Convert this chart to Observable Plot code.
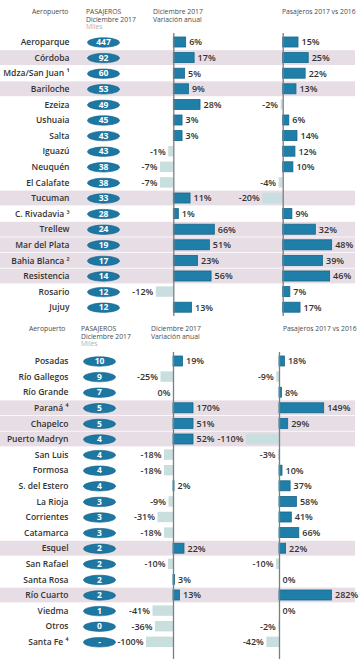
<!DOCTYPE html>
<html><head><meta charset="utf-8">
<script src="https://cdn.jsdelivr.net/npm/d3@7"></script>
<script src="https://cdn.jsdelivr.net/npm/@observablehq/plot@0.6"></script>
<style>
body{margin:0;background:#fff;font-family:"Open Sans",sans-serif;}
#chart{position:relative;width:360px;height:659px;overflow:hidden;background:#fff;}
.hdr{position:absolute;font-size:6.8px;line-height:7.6px;color:#4a4a4a;white-space:nowrap;}
.hdr .miles{color:#b3b3b3;}
</style></head><body><div id="chart"></div>
<script>
// ---- Data ----
const topNames = ["Aeroparque","Córdoba","Mdza/San Juan ¹","Bariloche","Ezeiza","Ushuaia","Salta","Iguazú","Neuquén","El Calafate","Tucuman","C. Rivadavia ³","Trellew","Mar del Plata","Bahia Blanca ²","Resistencia","Rosario","Jujuy"];
const topPax = ["447","92","60","53","49","45","43","43","38","38","33","28","24","19","17","14","12","12"];
const topVarDic = [6,17,5,9,28,3,3,-1,-7,-7,11,1,66,51,23,56,-12,13];
const topVarYear = [15,25,22,13,-2,6,14,12,10,-4,-20,9,32,48,39,46,7,17];
const topHighlight = ["Córdoba","Bariloche","Tucuman","Trellew","Mar del Plata","Bahia Blanca ²","Resistencia"];

const botNames = ["Posadas","Río Gallegos","Río Grande","Paraná ⁴","Chapelco","Puerto Madryn","San Luis","Formosa","S. del Estero","La Rioja","Corrientes","Catamarca","Esquel","San Rafael","Santa Rosa","Río Cuarto","Viedma","Otros","Santa Fe ⁴"];
const botPax = ["10","9","7","5","5","4","4","4","4","3","3","3","2","2","2","2","1","0","-"];
const botVarDic = [19,-25,0,170,51,52,-18,-18,2,-9,-31,-18,22,-10,3,13,-41,-36,-100];
const botVarYear = [18,-9,8,149,29,-110,-3,10,37,58,41,66,22,-10,0,282,0,-2,-42];
const botHighlight = ["Paraná ⁴","Chapelco","Puerto Madryn","Esquel","Río Cuarto"];

const headerAirport = "Aeropuerto";
const headerPax = ["PASAJEROS","Diciembre 2017"];
const headerUnit = "Miles";
const headerMid = ["Diciembre 2017","Variación anual"];
const headerRight = "Pasajeros 2017 vs 2016";

// ---- Styling ----
const FONT = '"Open Sans", sans-serif';
const BLUE = "#1f7fa8", BLUE_DARK = "#16678c", GREY = "#c8dedf", PINK = "#e7dde5";
const PILL = "#1c77a2", TEXT = "#333333", RULE = "#7d7d7d";

const chart = document.getElementById("chart");

const ellipse = {
  draw(ctx) {
    const rx = 16, ry = 4.7, k = 0.5523;
    ctx.moveTo(-rx, 0);
    ctx.bezierCurveTo(-rx, -ry * k, -rx * k, -ry, 0, -ry);
    ctx.bezierCurveTo(rx * k, -ry, rx, -ry * k, rx, 0);
    ctx.bezierCurveTo(rx, ry * k, rx * k, ry, 0, ry);
    ctx.bezierCurveTo(-rx * k, ry, -rx, ry * k, -rx, 0);
    ctx.closePath();
  }
};

function layer(cfg, marks, opts = {}) {
  const svg = Plot.plot({
    width: 360, height: cfg.height,
    marginTop: cfg.marginTop, marginBottom: cfg.marginBottom,
    marginLeft: opts.left ?? 0, marginRight: opts.right ?? 0,
    x: opts.x ? {...opts.x, axis: null} : {axis: null},
    y: {type: "band", domain: cfg.names, padding: 0, round: false, axis: null},
    style: {background: "transparent", overflow: "visible", fontFamily: FONT},
    marks
  });
  svg.style.position = "absolute";
  svg.style.left = "0px";
  svg.style.top = cfg.top + "px";
  chart.append(svg);
}

function barsFor(rows, key, zeroLeft, cfg) {
  const pos = zeroLeft ? (d => d[key] > 0) : (d => d[key] >= 0);
  const neg = d => !pos(d);
  return [
    Plot.barX(rows, {filter: pos, x1: 0, x2: key, y: "name", fill: BLUE, stroke: BLUE_DARK, strokeWidth: 0.8, insetTop: 2.8, insetBottom: 2.8}),
    Plot.barX(rows, {filter: neg, x1: 0, x2: key, y: "name", fill: GREY, insetTop: 2.6, insetBottom: 2.6}),
    Plot.ruleX([0], {stroke: RULE, strokeWidth: 1.3, insetTop: -1.2, insetBottom: cfg.ruleExt}),
    Plot.text(rows, {filter: pos, x: key, y: "name", text: d => d[key] + "%", textAnchor: "start", dx: 3, fill: TEXT, fontSize: 9, fontWeight: 600}),
    Plot.text(rows, {filter: neg, x: key, y: "name", text: d => d[key] + "%", textAnchor: "end", dx: -3, fill: TEXT, fontSize: 9, fontWeight: 600})
  ];
}

function header(top, left, lines, unit) {
  const div = document.createElement("div");
  div.className = "hdr";
  div.style.top = top + "px";
  div.style.left = left + "px";
  div.innerHTML = lines.map(s => `<div>${s}</div>`).join("") + (unit ? `<div class="miles">${unit}</div>` : "");
  chart.append(div);
}

function panel(cfg) {
  const rows = cfg.names.map((name, i) => ({name, pax: cfg.pax[i], dic: cfg.dic[i], year: cfg.year[i]}));
  const hl = new Set(cfg.highlight);
  // background bands
  layer(cfg, [
    Plot.barX(rows, {filter: d => hl.has(d.name), x1: 0, x2: 1, y: "name", fill: PINK, insetTop: 0.4, insetBottom: 0.4})
  ], {x: {domain: [0, 1]}, right: 5});
  // names
  layer(cfg, [
    Plot.text(rows, {y: "name", text: "name", frameAnchor: "right", textAnchor: "end", fill: TEXT, fontSize: 8.5, fontWeight: 600})
  ], {right: 360 - cfg.nameRight});
  // pills
  layer(cfg, [
    Plot.dot(rows, {y: "name", symbol: ellipse, fill: PILL, stroke: "#145f85", strokeWidth: 0.6}),
    Plot.text(rows, {y: "name", text: "pax", fill: "white", fontSize: 8.5, fontWeight: 700})
  ], {right: 360 - 2 * cfg.pillCenter});
  // month variation
  layer(cfg, barsFor(rows, "dic", true, cfg), {x: cfg.midX});
  // yearly variation
  layer(cfg, barsFor(rows, "year", false, cfg), {x: cfg.rightX});
  // headers
  header(cfg.hdrTop, cfg.hdrAirport, [headerAirport]);
  header(cfg.hdrTop, cfg.hdrPax, headerPax, headerUnit);
  header(cfg.hdrTop, cfg.hdrMid, headerMid);
  header(cfg.hdrTop, cfg.hdrRight, [headerRight]);
}

panel({
  names: topNames, pax: topPax, dic: topVarDic, year: topVarYear, highlight: topHighlight,
  top: 0, height: 316, marginTop: 34.2, marginBottom: 1, ruleExt: -1,
  nameRight: 69, pillCenter: 103,
  midX: {type: "sqrt", domain: [-16, 100], range: [153.1, 223.8]},
  rightX: {type: "linear", domain: [-25, 70], range: [257.2, 354.1]},
  hdrTop: 8, hdrAirport: 32, hdrPax: 86, hdrMid: 153, hdrRight: 282
});

panel({
  names: botNames, pax: botPax, dic: botVarDic, year: botVarYear, highlight: botHighlight,
  top: 318, height: 341, marginTop: 35.2, marginBottom: 9.4, ruleExt: -10,
  nameRight: 68, pillCenter: 99,
  midX: {type: "linear", domain: [-54, 40], range: [146, 193], clamp: true},
  rightX: {type: "linear", domain: [-110, 175], range: [246, 331.5], clamp: true},
  hdrTop: 325, hdrAirport: 29, hdrPax: 81, hdrMid: 151, hdrRight: 283
});
</script></body></html>
